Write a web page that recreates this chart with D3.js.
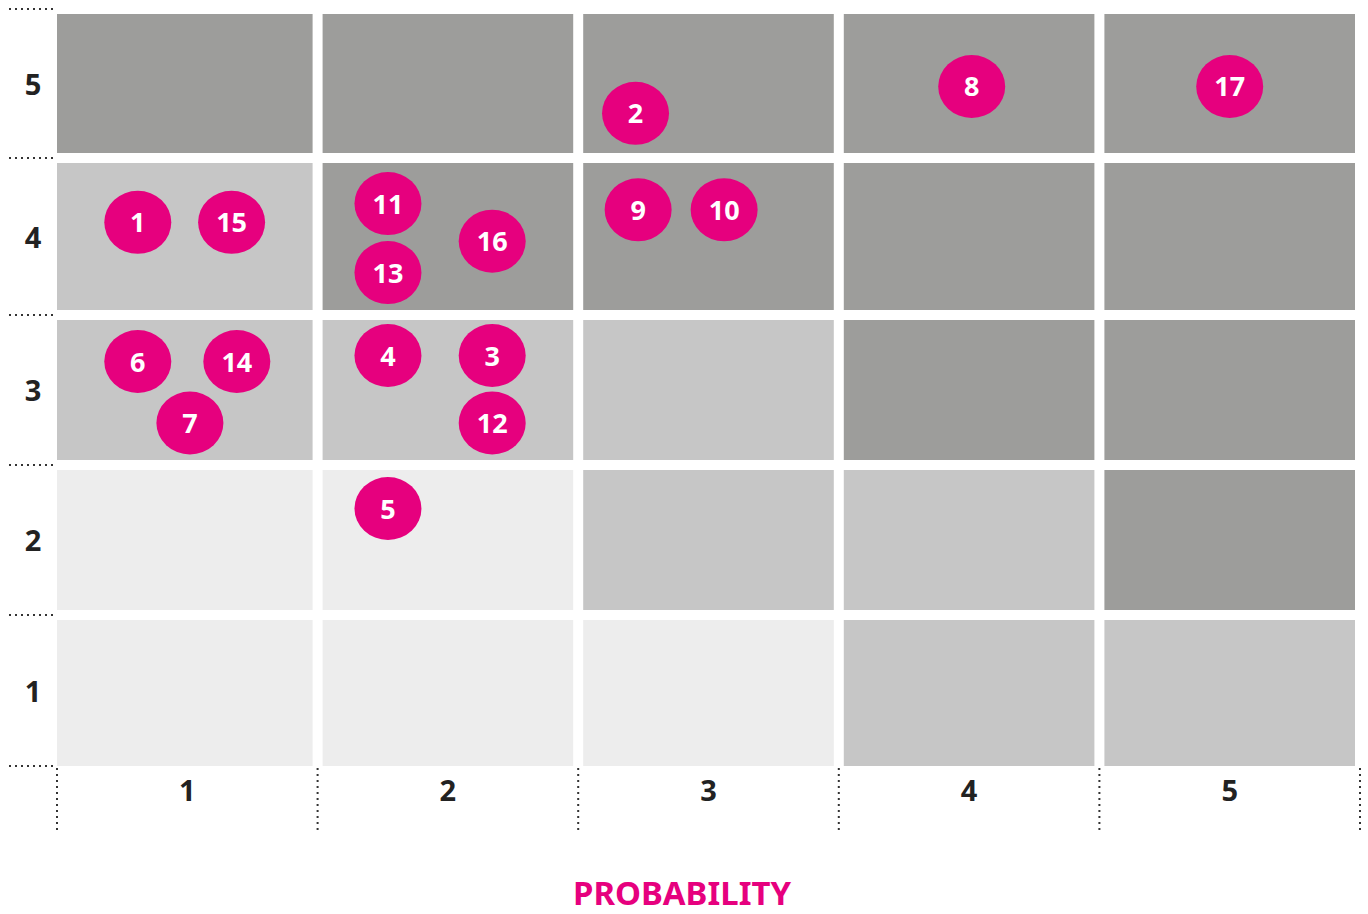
<!DOCTYPE html>
<html>
<head>
<meta charset="utf-8">
<style>
  body { margin: 0; background: #fff; }
  text { font-family: "Noto Sans", "Open Sans", sans-serif; font-weight: 700; }
</style>
<script src="https://d3js.org/d3.v7.min.js"></script>
</head>
<body>
<svg width="1368" height="914"></svg>
<script>
  // data
  const probLevels = [1, 2, 3, 4, 5];
  const impactLevels = [1, 2, 3, 4, 5];
  // shade per cell, rows = impact 5..1, cols = probability 1..5 (0 light, 1 mid, 2 dark)
  const shadeRows = [
    [2, 2, 2, 2, 2],
    [1, 2, 2, 2, 2],
    [1, 1, 1, 2, 2],
    [0, 0, 1, 1, 2],
    [0, 0, 0, 1, 1]
  ];
  const riskIds    = [1, 2, 3, 4, 5, 6, 7, 8, 9, 10, 11, 12, 13, 14, 15, 16, 17];
  const riskProb   = [0.81, 2.72, 2.17, 1.77, 1.77, 0.81, 1.01, 4.01, 2.73, 3.06, 1.77, 2.17, 1.77, 1.19, 1.17, 2.17, 5.0];
  const riskImpact = [4.09, 4.80, 3.23, 3.23, 2.21, 3.19, 2.78, 4.98, 4.17, 4.17, 4.21, 2.78, 3.77, 3.19, 4.09, 3.97, 4.98];
  const xTitle = "PROBABILITY";

  const shades = ["#ededed", "#c6c6c6", "#9d9d9b"];
  const magenta = "#e6007e";

  const svg = d3.select("svg");
  const gLeft = 57, gRight = 1360, gTop = 9, gBottom = 766;

  // value scales; level k spans k-0.5 .. k+0.5
  const xl = d3.scaleLinear().domain([0.5, 5.5]).range([gLeft, gRight]);
  const yl = d3.scaleLinear().domain([0.5, 1.5, 2.5, 3.5, 4.5, 5.5])
    .range([gBottom, 615, 465, 315, 158, gTop]);

  // cells
  const cells = [];
  shadeRows.forEach((row, ri) => row.forEach((s, ci) => {
    cells.push({ p: probLevels[ci], i: impactLevels[4 - ri], s });
  }));
  svg.append("g").selectAll("rect").data(cells).enter().append("rect")
    .attr("x", d => xl(d.p - 0.5))
    .attr("y", d => yl(d.i + 0.5))
    .attr("width", d => xl(d.p + 0.5) - xl(d.p - 0.5))
    .attr("height", d => yl(d.i - 0.5) - yl(d.i + 0.5))
    .attr("fill", d => shades[d.s]);

  // white gutters
  const g = svg.append("g").attr("stroke", "#fff").attr("stroke-width", 10);
  probLevels.map(p => xl(p + 0.5)).forEach(xx => {
    g.append("line").attr("x1", xx).attr("x2", xx).attr("y1", gTop - 5).attr("y2", gBottom);
  });
  impactLevels.map(i => yl(i + 0.5)).forEach(yy => {
    g.append("line").attr("x1", gLeft).attr("x2", gRight + 5).attr("y1", yy).attr("y2", yy);
  });

  // dotted ticks
  const dots = svg.append("g").attr("stroke", "#333").attr("stroke-width", 2)
    .attr("stroke-dasharray", "2,4");
  impactLevels.map(i => yl(i + 0.5)).concat([gBottom]).forEach(yy => {
    dots.append("line").attr("x1", 9).attr("x2", gLeft).attr("y1", yy).attr("y2", yy);
  });
  probLevels.map(p => xl(p - 0.5)).concat([gRight]).forEach(xx => {
    dots.append("line").attr("x1", xx).attr("x2", xx).attr("y1", gBottom + 2).attr("y2", 834);
  });

  // axis labels
  svg.append("g").selectAll("text").data(probLevels).enter().append("text")
    .attr("x", d => xl(d))
    .attr("y", 801)
    .attr("text-anchor", "middle")
    .attr("font-size", 29)
    .attr("fill", "#222")
    .text(d => d);
  svg.append("g").selectAll("text").data(impactLevels).enter().append("text")
    .attr("x", 33)
    .attr("y", d => (yl(d - 0.5) + yl(d + 0.5)) / 2 + 11)
    .attr("text-anchor", "middle")
    .attr("font-size", 29)
    .attr("fill", "#222")
    .text(d => d);

  svg.append("text")
    .attr("x", 682).attr("y", 905)
    .attr("text-anchor", "middle")
    .attr("font-size", 33)
    .attr("fill", magenta)
    .attr("textLength", 218)
    .attr("lengthAdjust", "spacingAndGlyphs")
    .text(xTitle);

  // risks
  const risks = riskIds.map((id, k) => ({ id, p: riskProb[k], i: riskImpact[k] }));
  const rg = svg.append("g").selectAll("g").data(risks).enter().append("g")
    .attr("transform", d => `translate(${xl(d.p)},${yl(d.i)})`);
  rg.append("ellipse").attr("rx", 33.5).attr("ry", 31.5).attr("fill", magenta);
  rg.append("text")
    .attr("text-anchor", "middle")
    .attr("y", 10)
    .attr("font-size", 27)
    .attr("fill", "#fff")
    .text(d => d.id);
</script>
</body>
</html>
